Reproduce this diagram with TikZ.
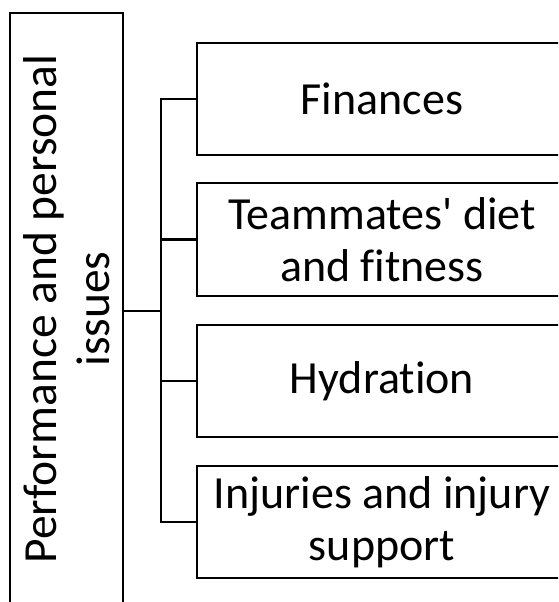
\documentclass[tikz,border=0pt]{standalone}
\usepackage{fontspec}
\newfontfamily\carl{Carlito}[Ligatures=NoCommon]
\begin{document}
\begin{tikzpicture}[x=1pt,y=-1pt,
  boxstyle/.style={draw=black, line width=2.6pt, inner sep=0pt, align=center,
    font=\carl\fontsize{46}{52}\selectfont},
  conn/.style={draw=black, line width=2.2pt}]
\useasboundingbox (0,0) rectangle (558,602);
\clip (0,0) rectangle (558,602);
\node[boxstyle, rotate=90, minimum width=592pt, minimum height=113pt,
  font=\carl\fontsize{47.5}{53}\selectfont] (left) at (66.5,309)
  {Performance and personal\\issues};
\node[boxstyle, minimum width=370pt, minimum height=112pt] (b1) at (382,99) {Finances};
\node[boxstyle, minimum width=370pt, minimum height=113pt] (b2) at (382,239.5) {Teammates' diet\\and fitness};
\node[boxstyle, minimum width=370pt, minimum height=112pt] (b3) at (382,381) {Hydration};
\node[boxstyle, minimum width=370pt, minimum height=112pt] (b4) at (382,522) {Injuries and injury\\support};
\coordinate (j) at (161,311);
\draw[conn] (left.south |- j) -- (j);
\draw[conn] (b1.west) -- (b1.west -| j) -- (b4.west -| j) -- (b4.west);
\draw[conn] (b2.west) -- (b2.west -| j);
\draw[conn] (b3.west) -- (b3.west -| j);
\end{tikzpicture}
\end{document}
